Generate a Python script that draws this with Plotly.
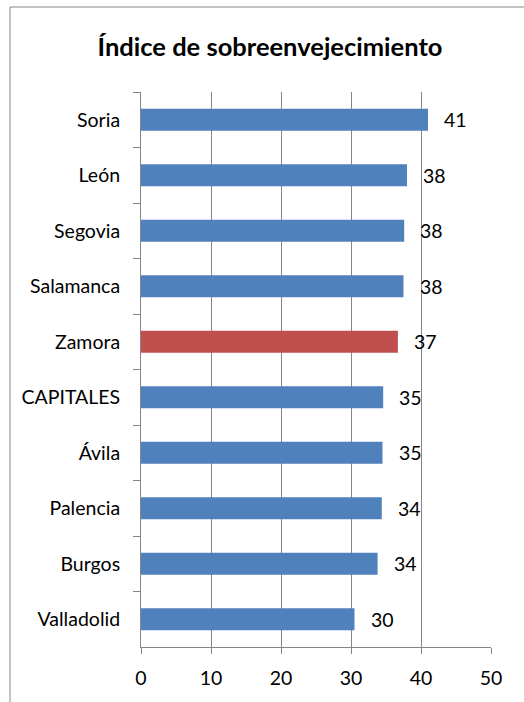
import plotly.graph_objects as go

categories = ["Soria", "León", "Segovia", "Salamanca", "Zamora", "CAPITALES",
              "Ávila", "Palencia", "Burgos", "Valladolid"]
values = [41.0, 38.0, 37.6, 37.5, 36.7, 34.6, 34.5, 34.4, 33.8, 30.5]
value_labels = ["41", "38", "38", "38", "37", "35", "35", "34", "34", "30"]
x_ticks = [0, 10, 20, 30, 40, 50]
highlight = "Zamora"

colors = ["#C0504D" if c == highlight else "#4F81BD" for c in categories]

W, H = 524, 702
L, R, T, B = 141, 491, 92, 647
FONT = "Lato"

fig = go.Figure()
fig.add_trace(go.Bar(
    x=values, y=categories, orientation="h",
    marker=dict(color=colors, line=dict(width=0)),
    width=0.4, hoverinfo="skip",
))

for v, c, t in zip(values, categories, value_labels):
    fig.add_annotation(x=v, y=c, text=t, showarrow=False, xanchor="left",
                       xshift=14, yshift=0, font=dict(family=FONT, size=19.5, color="#000"))

def px(xp):
    return (xp - L) / (R - L)

def py(yp):
    return (B - yp) / (B - T)

fig.add_shape(type="line", xref="paper", yref="paper", x0=px(10), x1=px(10),
              y0=py(712), y1=py(7), line=dict(color="#868686", width=1))
fig.add_shape(type="line", xref="paper", yref="paper", x0=px(10), x1=px(540),
              y0=py(7), y1=py(7), line=dict(color="#868686", width=1))

fig.update_layout(
    width=W, height=H,
    margin=dict(l=L, r=W - R, t=T, b=H - B, pad=0),
    paper_bgcolor="white", plot_bgcolor="white",
    showlegend=False,
    font=dict(family=FONT, size=19.5, color="#000"),
    title=dict(text="<b>Índice de sobreenvejecimiento</b>", x=270 / W, xref="container",
               xanchor="center", y=1 - 47 / H, yref="container", yanchor="middle",
               font=dict(family=FONT, size=25.5, color="#000")),
    xaxis=dict(range=[0, 50], tickvals=x_ticks, showgrid=True, gridcolor="#868686",
               gridwidth=1, showline=True, linecolor="#868686", linewidth=1,
               ticks="outside", ticklen=6, tickcolor="#868686", zeroline=False,
               ticklabelstandoff=8, fixedrange=True),
    yaxis=dict(autorange="reversed", showline=True, linecolor="#868686", linewidth=1,
               ticks="outside", ticklen=7, tickcolor="#868686", tickson="boundaries",
               ticklabelstandoff=16, showgrid=False, fixedrange=True),
)

fig.write_html("out.html", config={"displayModeBar": False},
               post_script="document.body.style.margin='0';")
